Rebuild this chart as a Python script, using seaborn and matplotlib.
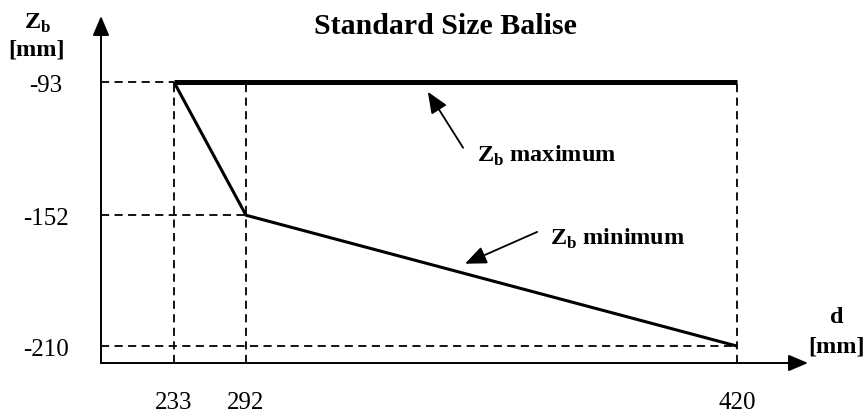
import numpy as np
import pandas as pd
import matplotlib
matplotlib.use("Agg")
import matplotlib.pyplot as plt
import seaborn as sns

# Profile data (d in mm, Zb in mm)
d_max = [233, 420]
zb_max = [-93, -93]
d_min = [233, 292, 420]
zb_min = [-93, -152, -210]

x_ticks = [233, 292, 420]
y_ticks = [-93, -152, -210]

title = "Standard Size Balise"
label_max = "Z$_{\\mathregular{b}}$ maximum"
label_min = "Z$_{\\mathregular{b}}$ minimum"

sns.set_theme(style="white")
plt.rcParams["font.family"] = ["Liberation Serif", "DejaVu Serif"]
plt.rcParams["mathtext.fontset"] = "custom"
plt.rcParams["mathtext.rm"] = "Liberation Serif"
plt.rcParams["mathtext.bf"] = "Liberation Serif:bold"
plt.rcParams["text.color"] = "black"
plt.rcParams["xtick.labelcolor"] = "black"
plt.rcParams["ytick.labelcolor"] = "black"

W, H = 867, 414
fig = plt.figure(figsize=(W / 100, H / 100), dpi=100)
ax = fig.add_axes([101 / W, 50 / H, 707 / W, 347 / H])

# Schematic (not-to-scale) distance axis: piecewise linear scale
d_knots = [173, 233, 292, 420, 440]
u_knots = [101, 174, 246, 737, 808]
fwd = lambda v: np.interp(v, d_knots, u_knots)
inv = lambda v: np.interp(v, u_knots, d_knots)
ax.set_xscale("function", functions=(fwd, inv))
ax.set_xlim(d_knots[0], d_knots[-1])
y_lo, y_hi = -217.5, -63.7
ax.set_ylim(y_lo, y_hi)

for s in ax.spines.values():
    s.set_visible(False)

# Dashed reference lines
dash = dict(color="black", lw=1.3, ls=(0, (4.5, 3)), zorder=1)
for xv in x_ticks:
    ax.plot([xv, xv], [y_lo, zb_max[0]], **dash)
for xv, yv in zip([233, 292, 420], y_ticks):
    ax.plot([d_knots[0], xv], [yv, yv], **dash)

df_max = pd.DataFrame({"d": d_max, "zb": zb_max})
df_min = pd.DataFrame({"d": d_min, "zb": zb_min})
sns.lineplot(data=df_max, x="d", y="zb", color="black", lw=3.6, ax=ax,
             zorder=3, solid_capstyle="butt")
sns.lineplot(data=df_min, x="d", y="zb", color="black", lw=2.2, ax=ax,
             zorder=3, solid_capstyle="butt")

# Axis arrows
arr = dict(arrowstyle="-|>,head_length=0.85,head_width=0.36", color="black",
           lw=1.4, mutation_scale=14, shrinkA=0, shrinkB=0)
ax.annotate("", xy=(0, 1), xytext=(0, 0), xycoords="axes fraction",
            arrowprops=arr, annotation_clip=False)
ax.annotate("", xy=(1, 0), xytext=(0, 0), xycoords="axes fraction",
            arrowprops=arr, annotation_clip=False)

ax.set_xticks(x_ticks)
ax.set_xticklabels([str(v) for v in x_ticks])
ax.set_yticks(y_ticks)
ax.set_yticklabels([str(v) for v in y_ticks])
ax.tick_params(axis="x", length=0, pad=20, labelsize=18, labelcolor="black")
ax.tick_params(axis="y", length=0, pad=39.5, labelsize=18, labelcolor="black")
for t in ax.get_yticklabels():
    t.set_horizontalalignment("center")
ax.set_xlabel("")
ax.set_ylabel("")

# Callouts
call = dict(arrowstyle="-|>,head_length=1.0,head_width=0.42", color="black",
            lw=1.3, mutation_scale=13, shrinkA=0, shrinkB=0)
ax.annotate("", xy=(339.4, -97.3), xytext=(348.6, -122.1), arrowprops=call)
ax.text(352.2, -125.2, label_max, fontsize=17.5, fontweight="bold",
        ha="left", va="center", color="black")
ax.annotate("", xy=(349.1, -173.5), xytext=(367.9, -159.4), arrowprops=call)
ax.text(371.2, -162.0, label_min, fontsize=17.5, fontweight="bold",
        ha="left", va="center", color="black")

# Title and axis labels
fig.text(445 / W, 1 - 26 / H, title, fontsize=21.5, fontweight="bold",
         ha="center", va="center", color="black")
fig.text(38 / W, 1 - 23 / H, "Z$_{\\mathregular{b}}$", fontsize=17.5,
         fontweight="bold", ha="center", va="center", color="black")
fig.text(37 / W, 1 - 50 / H, "[mm]", fontsize=17.5, fontweight="bold",
         ha="center", va="center", color="black")
fig.text(837 / W, 1 - 318 / H, "d", fontsize=17.5, fontweight="bold",
         ha="center", va="center", color="black")
fig.text(837 / W, 1 - 347 / H, "[mm]", fontsize=17.5, fontweight="bold",
         ha="center", va="center", color="black")

fig.savefig("out.png", dpi=100, facecolor="white")
